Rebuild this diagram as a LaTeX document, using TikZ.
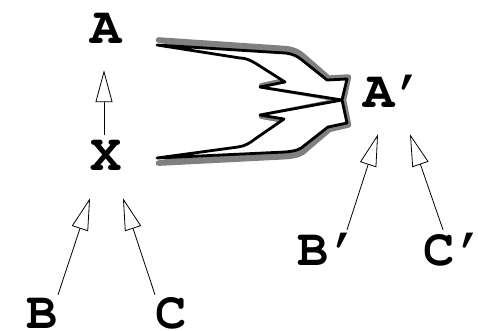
\documentclass[tikz,border=0pt]{standalone}
\usepackage[T1]{fontenc}
\usepackage{courier}
\usetikzlibrary{arrows.meta}
% outline of the merging shape, y measured from its middle line
\newcommand{\mergeshape}{(157,-56) -- (285,-48) .. controls (293,-47) and (297,-45) .. (302,-41) -- (327,-21) -- (347,-22) -- (342,-1) -- (347,22) -- (328,26) -- (305,44) .. controls (300,49) and (295,50) .. (285,51) -- (157,57) -- (238,46) .. controls (245,45) and (250,42) .. (255,38) -- (284,18) -- (260,14) -- (342,-1) -- (260,-14) -- (285,-19) -- (255,-38) .. controls (250,-41) and (245,-43) .. (240,-43) -- cycle}

\begin{document}
\begin{tikzpicture}[
    x=1pt, y=-1pt,
    lbl/.style={font=\fontfamily{pcr}\bfseries\fontsize{52}{52}\selectfont, inner sep=0pt, text height=29pt, text depth=0pt, anchor=base},
    arr/.style={-{Triangle[open, length=32pt, width=17pt]}, line width=0.8pt},
    outline/.style={draw, line width=2.8pt, line join=round, fill=white},
    shade/.style={draw=gray, fill=gray, line width=5.5pt, line join=round}
]
\path[use as bounding box, fill=white] (0,0) rectangle (478,330);

% Left tree
\node[lbl] (a) at (106,43) {A};
\node[lbl] (x) at (106,170) {X};
\node[lbl] (b) at (42,328) {B};
\node[lbl] (c) at (171,328) {C};
\draw[arr] ([shift={(-2,-6)}]x.north) -- ([shift={(-2,27)}]a.south);
\draw[arr] ([shift={(16,-4)}]b.north) -- ([shift={(-16,28)}]x.south);
\draw[arr] ([shift={(-16,-4)}]c.north) -- ([shift={(17,28)}]x.south);

% Merge shape
\begin{scope}[shift={(1.5,101)}, yscale=1.09]
\path[shade] \mergeshape;
\end{scope}
\begin{scope}[shift={(0,101)}]
\path[outline] \mergeshape;
\end{scope}

% Right tree
\node[lbl] (ap) at (394.6,107) {A'};
\node[lbl] (bp) at (329,265) {B'};
\node[lbl] (cp) at (455,265) {C'};
\draw[arr] ([shift={(18,-6)}]bp.north) -- ([shift={(-16.6,27)}]ap.south);
\draw[arr] ([shift={(-12,-6)}]cp.north) -- ([shift={(15.4,27)}]ap.south);
\end{tikzpicture}
\end{document}
